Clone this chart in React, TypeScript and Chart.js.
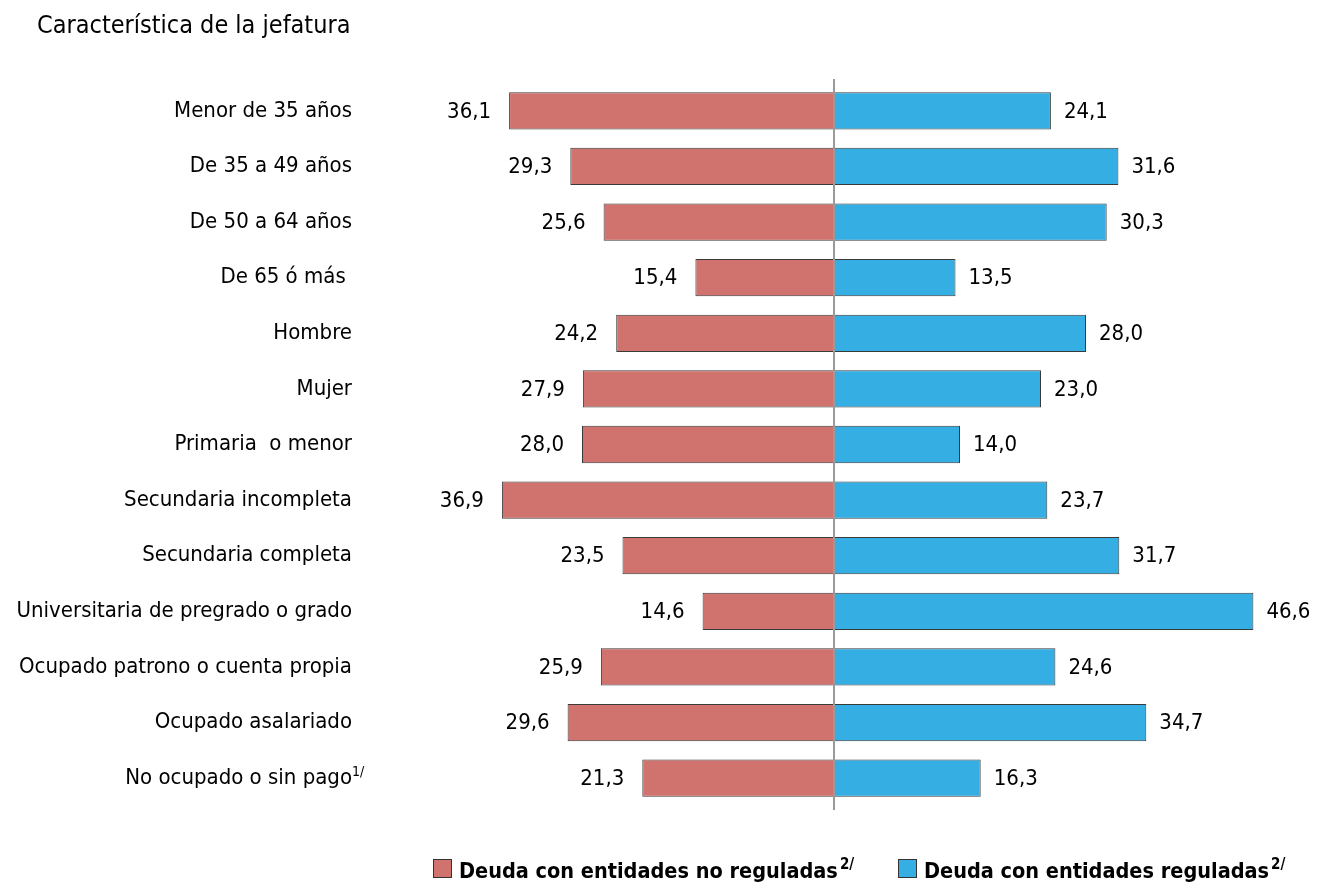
import React, { useEffect, useRef } from "react";
import { Chart, registerables } from "chart.js";

Chart.register(...registerables);

const categories = [
  "Menor de 35 años",
  "De 35 a 49 años",
  "De 50 a 64 años",
  "De 65 ó más ",
  "Hombre",
  "Mujer",
  "Primaria  o menor",
  "Secundaria incompleta",
  "Secundaria completa",
  "Universitaria de pregrado o grado",
  "Ocupado patrono o cuenta propia",
  "Ocupado asalariado",
  "No ocupado o sin pago",
];
const noReguladas = [36.1, 29.3, 25.6, 15.4, 24.2, 27.9, 28.0, 36.9, 23.5, 14.6, 25.9, 29.6, 21.3];
const reguladas = [24.1, 31.6, 30.3, 13.5, 28.0, 23.0, 14.0, 23.7, 31.7, 46.6, 24.6, 34.7, 16.3];
const seriesNames = ["Deuda con entidades no reguladas", "Deuda con entidades reguladas"];
const title = "Característica de la jefatura";

const FONT = "'DejaVu Sans Condensed', 'Liberation Sans Narrow', sans-serif";
const RED = "#D0726D";
const BLUE = "#35AEE3";

const fmt = (v: number) => Math.abs(v).toFixed(1).replace(".", ",");

const valueLabels = {
  id: "valueLabels",
  afterDatasetsDraw(chart: any) {
    const ctx = chart.ctx;
    ctx.save();
    ctx.font = `22px ${FONT}`;
    ctx.fillStyle = "#000";
    ctx.textBaseline = "middle";
    chart.data.datasets.forEach((ds: any, di: number) => {
      const meta = chart.getDatasetMeta(di);
      meta.data.forEach((el: any, i: number) => {
        const v = ds.data[i];
        if (di === 0) {
          ctx.textAlign = "right";
          ctx.fillText(fmt(v), el.x - 18, el.y + 1);
        } else {
          ctx.textAlign = "left";
          ctx.fillText(fmt(v), el.x + 13, el.y + 1);
        }
      });
    });
    const ys = chart.scales.y;
    const lastIdx = categories.length - 1;
    const y = ys.getPixelForValue(lastIdx);
    ctx.textAlign = "left";
    ctx.font = `14px ${FONT}`;
    ctx.textBaseline = "alphabetic";
    ctx.fillText("1/", 352, y - 2);
    ctx.restore();
  },
};

const drawCenter = (chart: any) => {
  const ctx = chart.ctx;
  const x = Math.round(chart.scales.x.getPixelForValue(0));
  const a = chart.chartArea;
  ctx.save();
  ctx.strokeStyle = "#9a9a9a";
  ctx.lineWidth = 2;
  ctx.beginPath();
  ctx.moveTo(x, a.top - 4);
  ctx.lineTo(x, a.bottom + 4);
  ctx.stroke();
  ctx.restore();
};

const centerLine = {
  id: "centerLine",
  afterDatasetsDraw(chart: any) {
    drawCenter(chart);
  },
};

export default function App() {
  const ref = useRef<HTMLCanvasElement>(null);
  useEffect(() => {
    if (!ref.current) return;
    const chart = new Chart(ref.current, {
      type: "bar",
      data: {
        labels: categories,
        datasets: [
          {
            label: seriesNames[0],
            data: noReguladas.map((v) => -v),
            backgroundColor: RED,
            borderColor: "#3a3a3a",
            borderWidth: 1,
            borderSkipped: false,
            barPercentage: 0.67,
            categoryPercentage: 1,
          },
          {
            label: seriesNames[1],
            data: reguladas,
            backgroundColor: BLUE,
            borderColor: "#3a3a3a",
            borderWidth: 1,
            borderSkipped: false,
            barPercentage: 0.67,
            categoryPercentage: 1,
          },
        ],
      },
      options: {
        indexAxis: "y",
        responsive: false,
        animation: false,
        layout: { padding: { top: 83, bottom: 82, left: 0, right: 41 } },
        plugins: {
          legend: { display: false },
          tooltip: { enabled: false },
        },
        scales: {
          x: {
            display: false,
            stacked: true,
            min: -40,
            max: 50,
          },
          y: {
            stacked: true,
            grid: { display: false, drawTicks: false },
            border: { display: false },
            ticks: {
              padding: 122,
              color: "#000",
              font: { family: FONT, size: 22 },
            },
            afterFit: (scale: any) => {
              scale.width = 474;
              scale.paddingTop = 0;
              scale.paddingBottom = 0;
            },
          },
        },
      },
      plugins: [centerLine, valueLabels],
    });
    return () => chart.destroy();
  }, []);

  const legendItem = (color: string, text: string, left: number) => (
    <div
      style={{
        position: "absolute",
        left,
        top: 848,
        display: "flex",
        alignItems: "center",
        fontFamily: FONT,
        fontWeight: "bold",
        fontSize: 21.5,
        color: "#000",
        whiteSpace: "nowrap",
        lineHeight: "34px",
      }}
    >
      <span
        style={{
          display: "inline-block",
          width: 17,
          height: 17,
          background: color,
          border: "1px solid #333",
          marginRight: 7,
        }}
      />
      <span>
        {text}
        <sup style={{ fontSize: 15, position: "relative", top: -1, marginLeft: 2 }}>2/</sup>
      </span>
    </div>
  );

  return (
    <div style={{ position: "fixed", left: 0, top: 0, width: 1325, height: 888, background: "#fff" }}>
      <canvas ref={ref} width={1325} height={888} style={{ position: "absolute", left: 0, top: 0 }} />
      <div
        style={{
          position: "absolute",
          left: 37,
          top: 8,
          fontFamily: FONT,
          fontSize: 25,
          color: "#000",
          lineHeight: "34px",
        }}
      >
        {title}
      </div>
      {legendItem(RED, seriesNames[0], 433)}
      {legendItem(BLUE, seriesNames[1], 898)}
    </div>
  );
}
